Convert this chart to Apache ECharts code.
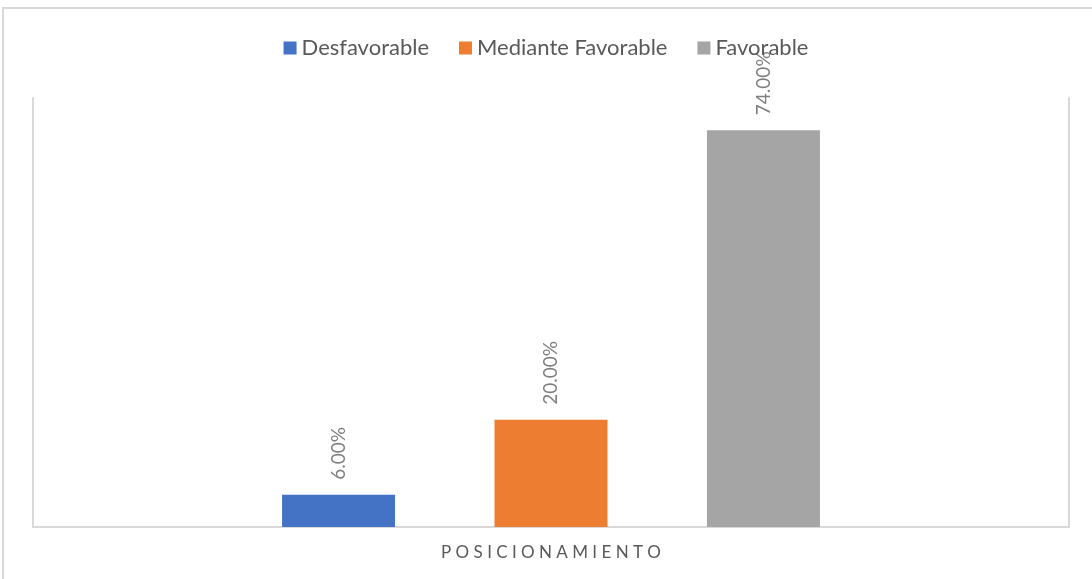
<!DOCTYPE html>
<html>
<head>
<meta charset="utf-8">
<script src="https://cdn.jsdelivr.net/npm/echarts@6/dist/echarts.min.js"></script>
<style>
  html, body { margin: 0; padding: 0; background: #fff; }
  #chart { width: 1092px; height: 579px; }
</style>
</head>
<body>
<div id="chart"></div>
<script>
// datos del gráfico
var categories = ['POSICIONAMIENTO']
var seriesNames = ['Desfavorable', 'Mediante Favorable', 'Favorable']
var seriesValues = [[6], [20], [74]]
var colors = ['#4472C4', '#ED7D31', '#A5A5A5']

var myChart = echarts.init(document.getElementById('chart'))

var series = seriesNames.map(function (name, i) {
  return {
    name: name,
    type: 'bar',
    data: seriesValues[i],
    barWidth: 113,
    barGap: '88%',
    itemStyle: { color: colors[i] },
    label: {
      show: true,
      position: 'top',
      rotate: 90,
      align: 'left',
      verticalAlign: 'middle',
      distance: 15,
      color: '#7f7f7f',
      fontSize: 19,
      fontFamily: 'Lato, sans-serif',
      formatter: function (p) { return p.value.toFixed(2) + '%' }
    }
  }
})

myChart.setOption({
  animation: false,
  backgroundColor: '#fff',
  graphic: [
    {
      // borde exterior
      type: 'rect',
      shape: { x: 3, y: 8, width: 1200, height: 700 },
      style: { fill: 'none', stroke: '#d9d9d9', lineWidth: 2 },
      silent: true
    }
  ],
  legend: {
    top: 32,
    left: 'center',
    itemWidth: 13,
    itemHeight: 13,
    itemGap: 30,
    icon: 'rect',
    textStyle: { color: '#595959', fontSize: 22, fontFamily: 'Lato, sans-serif' },
    data: seriesNames
  },
  grid: { left: 33, right: 23, top: 98, bottom: 52 },
  xAxis: {
    type: 'category',
    data: categories,
    axisLine: { show: true, lineStyle: { color: '#d9d9d9', width: 2 } },
    axisTick: { show: false },
    axisLabel: {
      margin: 17,
      color: '#595959',
      fontSize: 17,
      fontFamily: 'Lato, sans-serif',
      formatter: function (v) { return v.split('').join(' ') }
    }
  },
  yAxis: [
    {
      type: 'value',
      min: 0,
      max: 80,
      axisLine: { show: true, lineStyle: { color: '#d9d9d9', width: 2 } },
      axisTick: { show: false },
      axisLabel: { show: false },
      splitLine: { show: false }
    },
    {
      type: 'value',
      position: 'right',
      min: 0,
      max: 80,
      axisLine: { show: true, lineStyle: { color: '#d9d9d9', width: 2 } },
      axisTick: { show: false },
      axisLabel: { show: false },
      splitLine: { show: false }
    }
  ],
  series: series
})
</script>
</body>
</html>
